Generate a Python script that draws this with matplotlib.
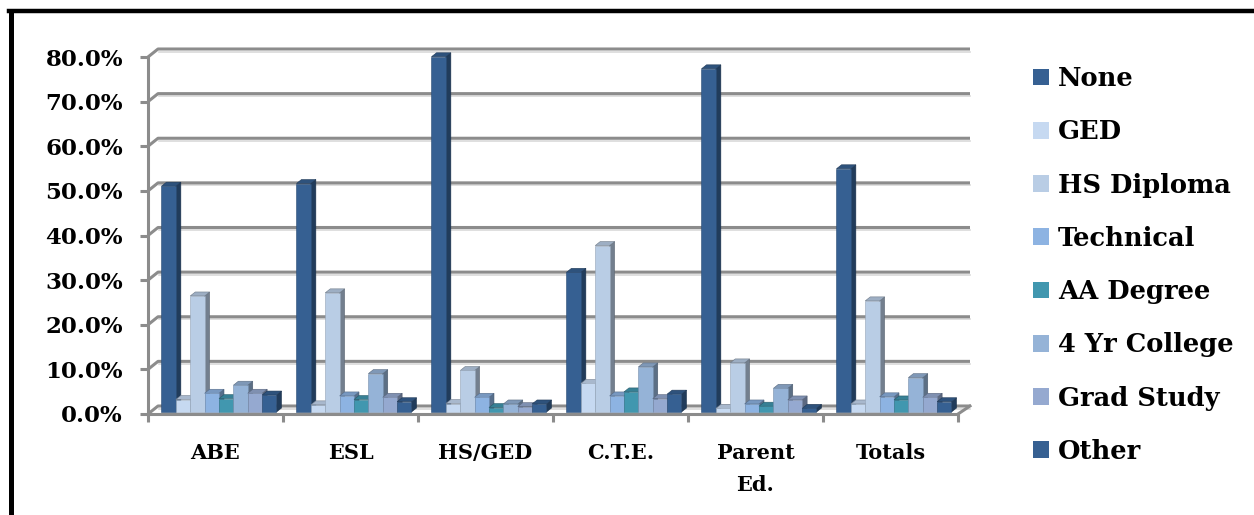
import matplotlib
matplotlib.use('Agg')
import matplotlib.pyplot as plt
import numpy as np
from matplotlib.patches import Polygon, Patch
from matplotlib.lines import Line2D
from matplotlib.transforms import Affine2D, IdentityTransform
from matplotlib.colors import to_rgb

plt.rcParams['font.family'] = 'DejaVu Serif'
plt.rcParams['font.weight'] = 'bold'

# Share of students by prior education, per program (percent)
categories = ['ABE', 'ESL', 'HS/GED', 'C.T.E.', 'Parent\nEd.', 'Totals']
series_names = ['None', 'GED', 'HS Diploma', 'Technical', 'AA Degree',
                '4 Yr College', 'Grad Study', 'Other']
none_pct = [50.6, 51.2, 79.6, 31.3, 76.9, 54.5]
ged_pct = [2.8, 1.6, 1.9, 6.4, 0.8, 1.8]
hs_pct = [26.0, 26.7, 9.3, 37.3, 11.0, 24.9]
tech_pct = [4.2, 3.6, 3.3, 3.6, 1.8, 3.4]
aa_pct = [3.0, 2.8, 1.0, 4.5, 1.3, 2.7]
college_pct = [6.0, 8.6, 1.8, 10.1, 5.3, 7.7]
grad_pct = [4.2, 3.3, 1.2, 3.0, 2.7, 3.3]
other_pct = [3.8, 2.3, 1.8, 4.0, 0.8, 2.3]
yticks = [0, 10, 20, 30, 40, 50, 60, 70, 80]

series = [none_pct, ged_pct, hs_pct, tech_pct, aa_pct, college_pct, grad_pct, other_pct]
colors = ['#366092', '#C6D9F1', '#B9CDE5', '#8DB3E2', '#4197AF',
          '#95B3D7', '#95A9D0', '#366092']

W, H = 1254, 515
fig = plt.figure(figsize=(W / 100, H / 100), dpi=100)
# plot area (front plane) in pixels: x 148..958, y 57..414 from top
ax = fig.add_axes([148 / W, 1 - 414 / H, (958 - 148) / W, (414 - 57) / H])
ax.set_xlim(0, len(categories))
ax.set_ylim(0, 80)
ax.set_facecolor('none')

grid_col = '#8C8C8C'
for s in ['top', 'right']:
    ax.spines[s].set_visible(False)
for s in ['left', 'bottom']:
    ax.spines[s].set_color(grid_col)
    ax.spines[s].set_linewidth(2.2)

ax.set_yticks(yticks)
ax.set_yticklabels([f'{v:.1f}%' for v in yticks])
ax.tick_params(axis='y', length=6, width=2.2, color=grid_col, pad=12, labelsize=16.5)
ax.set_xticks(np.arange(len(categories) + 1))
ax.set_xticklabels([])
ax.tick_params(axis='x', which='major', length=6, width=2.2, color=grid_col)
ax.set_xticks(np.arange(len(categories)) + 0.5, minor=True)
ax.set_xticklabels(categories, minor=True, linespacing=1.75)
ax.tick_params(axis='x', which='minor', length=0, pad=21, labelsize=15)

fig.canvas.draw()
to_px = ax.transData.transform
ident = IdentityTransform()

# back wall gridlines with the slanted left wall
wall_dx, wall_dy = 10, 8
x0 = to_px((0, 0))[0]
x1 = to_px((len(categories), 0))[0]
for v in yticks:
    yf = to_px((0, v))[1]
    ax.add_line(Line2D([x0, x0 + wall_dx, x1 + wall_dx + 2], [yf, yf + wall_dy, yf + wall_dy],
                       transform=ident, color=grid_col, lw=2.2, clip_on=False, zorder=1,
                       solid_capstyle='butt'))
    ax.add_line(Line2D([x0 + wall_dx + 1, x1 + wall_dx + 2], [yf + wall_dy - 2.5, yf + wall_dy - 2.5],
                       transform=ident, color='#D9D9D9', lw=1.2, clip_on=False, zorder=0.9))
# floor edge on the right
yb = to_px((0, 0))[1]
ax.add_line(Line2D([x1, x1 + wall_dx + 2], [yb, yb + wall_dy], transform=ident,
                   color=grid_col, lw=2.2, clip_on=False, zorder=1))


def shade(c, f):
    r, g, b = to_rgb(c)
    return (r * f, g * f, b * f)


# 3D-looking columns: front face from ax.bar, side and top faces offset behind
bar_w = 0.1065
start = 0.085
depth_dx, depth_dy = 5, 4
shift = Affine2D().translate(2, 2)
z = 3
for i in range(len(categories)):
    for j, vals in enumerate(series):
        xl = i + start + j * bar_w
        v = vals[i]
        (pxl, pyb), (pxr, pyt) = to_px([(xl, 0), (xl + bar_w, v)]) + 2
        side = Polygon([(pxr, pyb), (pxr, pyt), (pxr + depth_dx, pyt + depth_dy),
                        (pxr + depth_dx, pyb + depth_dy)], closed=True, transform=ident,
                       facecolor=shade(colors[j], 0.62), edgecolor=shade(colors[j], 0.5),
                       lw=0.4, zorder=z, clip_on=False)
        top = Polygon([(pxl, pyt), (pxr, pyt), (pxr + depth_dx, pyt + depth_dy),
                       (pxl + depth_dx, pyt + depth_dy)], closed=True, transform=ident,
                      facecolor=shade(colors[j], 0.85), edgecolor=shade(colors[j], 0.6),
                      lw=0.4, zorder=z, clip_on=False)
        ax.add_patch(side)
        ax.add_patch(top)
        ax.bar(xl, v, width=bar_w, align='edge', color=colors[j],
               edgecolor=shade(colors[j], 0.8), linewidth=0.4,
               transform=ax.transData + shift, zorder=z + 0.5, clip_on=False)
        z += 1

handles = [Patch(facecolor=c, edgecolor='none') for c in colors]
fig.legend(handles, series_names, loc='upper left',
           bbox_to_anchor=(1033 / W, 1 - 66 / H), frameon=False,
           prop={'family': 'DejaVu Serif', 'weight': 'bold', 'size': 18.5},
           handlelength=0.62, handleheight=0.62, handletextpad=0.35,
           labelspacing=1.1, borderpad=0, borderaxespad=0)

# chart border (runs off the right and bottom edges)
fig.add_artist(Line2D([11, 11], [H - 11, -5], transform=ident, color='black', lw=3.6))
fig.add_artist(Line2D([9, W + 5], [H - 11, H - 11], transform=ident, color='black', lw=3.2))

fig.savefig('out.png', dpi=100)
